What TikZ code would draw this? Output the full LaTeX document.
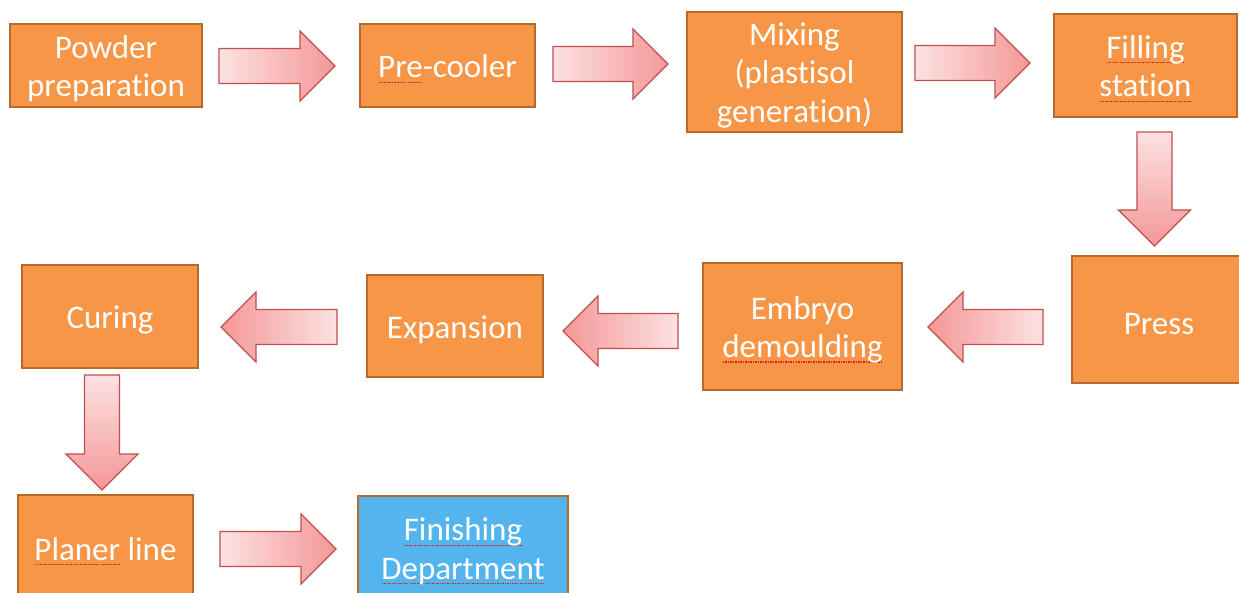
\documentclass[tikz,border=0pt]{standalone}
\usepackage{fontspec}
\setmainfont{Carlito}[Ligatures={NoCommon}]
\definecolor{boxfill}{HTML}{F79646}
\definecolor{boxline}{HTML}{B5692C}
\definecolor{bluefill}{HTML}{54B4EE}
\definecolor{arrlight}{HTML}{FDE2E2}
\definecolor{arrdark}{HTML}{F49797}
\definecolor{arrline}{HTML}{C0504D}
\definecolor{spellred}{HTML}{E02020}
\newcommand\topstrut{\rule{0pt}{29.5pt}}
\newcommand\spellmark[1]{\leavevmode\setbox0\hbox{#1}\rlap{\color{spellred}\raisebox{-5pt}{\xleaders\hbox to 2.5pt{\hss\rule{1.5pt}{1.2pt}\hss}\hskip\wd0\relax}}\box0\relax}
\newcommand\arrowR[3]{\shade[arrowshape,left color=arrlight,right color=arrdark]
  (#1,{#3-17.5}) -- ({#2-35},{#3-17.5}) -- ({#2-35},{#3-35}) -- (#2,#3) -- ({#2-35},{#3+35}) -- ({#2-35},{#3+17.5}) -- (#1,{#3+17.5}) -- cycle;}
\newcommand\arrowL[3]{\shade[arrowshape,left color=arrdark,right color=arrlight]
  (#1,{#3-17.5}) -- ({#2+35},{#3-17.5}) -- ({#2+35},{#3-35}) -- (#2,#3) -- ({#2+35},{#3+35}) -- ({#2+35},{#3+17.5}) -- (#1,{#3+17.5}) -- cycle;}
\newcommand\arrowD[3]{\shade[arrowshape,top color=arrlight,bottom color=arrdark]
  ({#3-17.5},#1) -- ({#3-17.5},{#2-36}) -- ({#3-36},{#2-36}) -- (#3,#2) -- ({#3+36},{#2-36}) -- ({#3+17.5},{#2-36}) -- ({#3+17.5},#1) -- cycle;}
\tikzset{
  procbox/.style={rectangle,draw=boxline,line width=1.6pt,fill=boxfill,text=white,
    align=center,inner sep=2pt,font=\fontsize{33}{38.5}\selectfont},
  arrowshape/.style={draw=arrline,line width=1.1pt,line join=miter}
}
\begin{document}
\begin{tikzpicture}[x=1pt,y=-1pt]
\useasboundingbox[fill=white] (0,0) rectangle (1239,593);
% boxes
\node[procbox,minimum width=192pt,minimum height=83pt] (b1) at (106,65.5) {\topstrut Powder\\preparation};
\node[procbox,minimum width=175pt,minimum height=83pt] (b2) at (447.5,65.5) {\topstrut\spellmark{Pre}-cooler};
\node[procbox,minimum width=215pt,minimum height=120pt] (b3) at (794.5,72) {\topstrut Mixing\\(plastisol\\generation)};
\node[procbox,minimum width=183pt,minimum height=103pt] (b4) at (1145.5,65.5) {\topstrut\spellmark{Filling}\\\spellmark{station}};
\node[procbox,minimum width=174pt,minimum height=127pt] (b5) at (1159,319.5) {\topstrut Press};
\node[procbox,minimum width=199pt,minimum height=127pt] (b6) at (802.5,326.5) {\topstrut Embryo\\\spellmark{demoulding}};
\node[procbox,minimum width=176pt,minimum height=102pt] (b7) at (455,326) {\topstrut Expansion};
\node[procbox,minimum width=176pt,minimum height=103pt] (b8) at (110,316.5) {\topstrut Curing};
\node[procbox,minimum width=175pt,minimum height=106pt] (b9) at (105.5,548) {\topstrut\spellmark{Planer} line};
\node[procbox,fill=bluefill,minimum width=210pt,minimum height=104pt] (b10) at (463,548) {\topstrut\spellmark{Finishing}\\\spellmark{Department}};
% block arrows
\arrowR{219}{335}{66}
\arrowR{553}{668}{64}
\arrowR{915}{1030}{63}
\arrowD{132}{246}{1154.5}
\arrowL{1043}{928}{327}
\arrowL{678}{563}{331}
\arrowL{337}{221}{327}
\arrowD{375}{490}{102}
\arrowR{220}{336}{549}
\end{tikzpicture}
\end{document}
